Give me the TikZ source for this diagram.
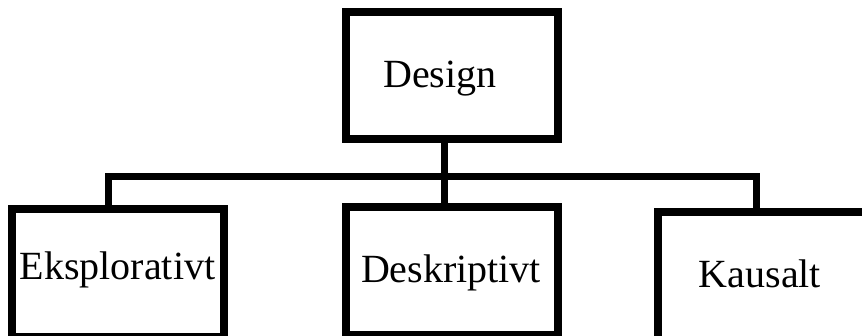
\documentclass[tikz,border=0pt]{standalone}
\usepackage{fontspec}
\setmainfont{Liberation Serif}
\begin{document}
\begin{tikzpicture}[x=1pt,y=-1pt,
  box/.style={draw=black,line width=7.5pt,rectangle,inner sep=0pt,fill=white},
  lbl/.style={anchor=base,inner sep=0pt,font=\fontsize{40}{48}\selectfont},
  conn/.style={draw=black,line width=7pt,line join=miter,line cap=butt}]
\useasboundingbox (0,0) rectangle (862,336);
\fill[white] (0,0) rectangle (862,336);
% boxes
\node[box,minimum width=212pt,minimum height=127pt] (design) at (452,75.5) {};
\node[box,minimum width=212pt,minimum height=127.5pt] (eks) at (118,272.75) {};
\node[box,minimum width=212pt,minimum height=128pt] (des) at (452,271) {};
\node[box,minimum width=222pt,minimum height=133pt] (kau) at (769,278.5) {};
% labels
\node[lbl] (tdesign) at (440,88) {Design};
\node[lbl] (teks) at (117.5,280) {Eksplorativt};
\node[lbl] (tdes) at (451,283) {Deskriptivt};
\node[lbl] (tkau) at (760,288) {Kausalt};
% connector points
\coordinate (dfoot) at (444,143);
\coordinate (bar) at (444,176.5);
\coordinate (efoot) at (108.5,205.5);
\coordinate (mfoot) at (444,203.5);
\coordinate (kfoot) at (756,208.5);
\draw[conn] (efoot) -- (efoot |- bar) -- (kfoot |- bar) -- (kfoot);
\draw[conn] (dfoot) -- (mfoot);
\end{tikzpicture}
\end{document}
